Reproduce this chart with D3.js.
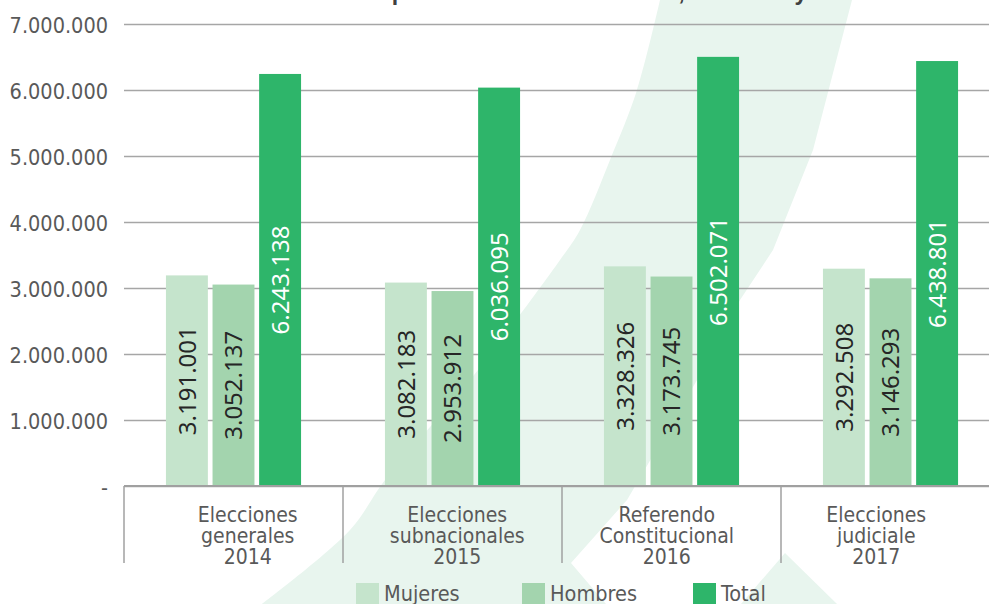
<!DOCTYPE html>
<html>
<head>
<meta charset="utf-8">
<script src="https://cdn.jsdelivr.net/npm/d3@7"></script>
<style>
  body { margin: 0; background: #fff; }
  svg { display: block; }
  .txt { font-family: "DejaVu Sans Condensed", "Liberation Sans", sans-serif; fill: #595959; }
</style>
</head>
<body>
<div id="chart"></div>
<script>
// DATOS

const categorias = [
  ["Elecciones", "generales", "2014"],
  ["Elecciones", "subnacionales", "2015"],
  ["Referendo", "Constitucional", "2016"],
  ["Elecciones", "judiciale", "2017"]
]
const series = ["Mujeres", "Hombres", "Total"]
const mujeres = [3191001, 3082183, 3328326, 3292508]
const hombres = [3052137, 2953912, 3173745, 3146293]
const total = [6243138, 6036095, 6502071, 6438801]
const yTicks = [0, 1000000, 2000000, 3000000, 4000000, 5000000, 6000000, 7000000]
const titulo = "Votantes por sexo en cada elección, hombres y total"

const colores = { Mujeres: "#c5e4cc", Hombres: "#a3d4ae", Total: "#2eb56a" }

// CONSTANTES

const width = 989
const height = 604
const margin = { left: 124, top: 24, bottom: 118 }

const svg = d3.select("#chart").append("svg").attr("width", width).attr("height", height)

// FONDO (marca de agua)

const bg = svg.append("g").attr("id", "fondo").attr("fill", "#e8f5ee")
const izq = [[660, 0], [637, 90], [610, 160], [580, 230], [560, 260], [470, 380], [385, 480], [350, 530], [262, 604]]
const der = [[606, 604], [571, 563], [627, 500], [700, 375], [740, 300], [773, 250], [813, 150], [852, 0]]
const line = d3.line().curve(d3.curveCatmullRom)
bg.append("path").attr("d", line(izq) + "L" + der.map(p => p.join(",")).join("L") + "Z")
bg.append("path").attr("d", "M785,553L741,604L837,604Z")

// TITULO (cortado arriba)

svg.append("text")
  .attr("x", 290).attr("y", 0)
  .attr("font-family", "Liberation Sans, sans-serif")
  .attr("font-weight", "bold")
  .attr("font-size", 23)
  .attr("fill", "#404040")
  .text(titulo)

// ESCALAS

const datos = categorias.map((c, i) => ({ cat: i, Mujeres: mujeres[i], Hombres: hombres[i], Total: total[i] }))

const x0 = d3.scaleBand().domain(d3.range(categorias.length)).range([margin.left, margin.left + 219 * 4]).padding(0)
const x1 = d3.scaleBand().domain(series).range([0, x0.bandwidth()]).paddingInner(0.1).paddingOuter(0.9)
const y = d3.scaleLinear().domain([0, 7000000]).range([height - margin.bottom, margin.top])
const xLabel = d3.scaleBand().domain(d3.range(categorias.length)).range([143, 981])

const loc = d3.formatLocale({ decimal: ",", thousands: ".", grouping: [3], currency: ["", ""] })
const fmt = loc.format(",")

// EJE Y + GRILLA

const yAxis = d3.axisLeft(y).tickValues(yTicks)
  .tickSize(-(width - margin.left))
  .tickPadding(16)
  .tickFormat(d => d === 0 ? "-" : fmt(d))

const yAxisGroup = svg.append("g").attr("transform", `translate(${margin.left},0)`).call(yAxis)
yAxisGroup.select(".domain").remove()
yAxisGroup.selectAll("line").attr("stroke", "#a6a6a6").attr("stroke-width", 1.4)
yAxisGroup.selectAll("text")
  .attr("class", "txt")
  .attr("font-size", 21.5)
  .attr("dy", "0.4em")

// BARRAS

const grupos = svg.append("g").selectAll("g").data(datos).join("g")
  .attr("transform", d => `translate(${x0(d.cat)},0)`)

grupos.selectAll("rect")
  .data(d => series.map(s => ({ key: s, value: d[s] })))
  .join("rect")
  .attr("x", d => x1(d.key))
  .attr("y", d => y(d.value))
  .attr("width", x1.bandwidth())
  .attr("height", d => y(0) - y(d.value))
  .attr("fill", d => colores[d.key])

// ETIQUETAS DE BARRAS (verticales)

grupos.selectAll("text.val")
  .data(d => series.map(s => ({ key: s, value: d[s] })))
  .join("text")
  .attr("class", "val")
  .attr("transform", d => `translate(${x1(d.key) + x1.bandwidth() / 2},${(y(d.value) + y(0)) / 2}) rotate(-90)`)
  .attr("text-anchor", "middle")
  .attr("dy", "0.36em")
  .attr("font-family", "Noto Sans, sans-serif")
  .attr("font-size", 24)
  .attr("fill", d => d.key === "Total" ? "#ffffff" : "#262626")
  .text(d => fmt(d.value))

// EJE X

const ejeX = svg.append("g")
ejeX.append("line")
  .attr("x1", margin.left).attr("x2", width)
  .attr("y1", y(0)).attr("y2", y(0))
  .attr("stroke", "#a0a0a0").attr("stroke-width", 2)

ejeX.selectAll("line.div").data(d3.range(categorias.length)).join("line")
  .attr("class", "div")
  .attr("x1", d => x0(d)).attr("x2", d => x0(d))
  .attr("y1", y(0)).attr("y2", y(0) + 77)
  .attr("stroke", "#a0a0a0").attr("stroke-width", 1.5)

const catText = ejeX.selectAll("text").data(categorias).join("text")
  .attr("class", "txt")
  .attr("font-size", 21)
  .attr("text-anchor", "middle")
  .attr("transform", (d, i) => `translate(${xLabel(i) + xLabel.bandwidth() / 2},${y(0) + 35.5})`)

catText.selectAll("tspan").data(d => d).join("tspan")
  .attr("x", 0)
  .attr("y", (d, i) => i * 21)
  .text(d => d)

// LEYENDA

const legX = d3.scaleOrdinal().domain(series).range([356, 522, 693])
const leyenda = svg.append("g").selectAll("g").data(series).join("g")
  .attr("transform", d => `translate(${legX(d)},583)`)

leyenda.append("rect").attr("width", 23).attr("height", 23).attr("fill", d => colores[d])
leyenda.append("text")
  .attr("class", "txt")
  .attr("x", 28).attr("y", 18)
  .attr("font-size", 21.5)
  .text(d => d)
</script>
</body>
</html>
